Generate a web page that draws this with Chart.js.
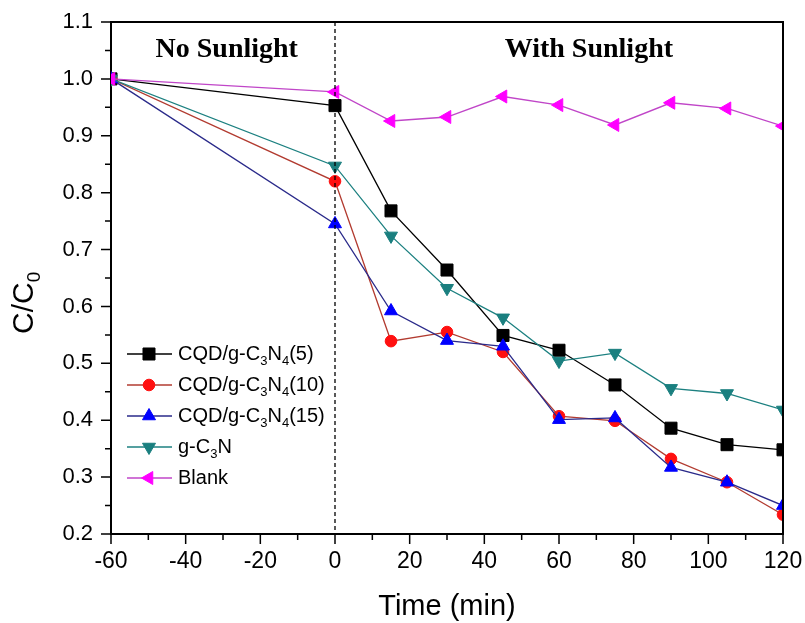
<!DOCTYPE html>
<html>
<head>
<meta charset="utf-8">
<script src="https://cdn.jsdelivr.net/npm/chart.js@4.4.1/dist/chart.umd.min.js"></script>
<style>
  html, body { margin: 0; padding: 0; background: #fff; }
  #wrap { width: 805px; height: 623px; }
</style>
</head>
<body>
<div id="wrap"><canvas id="chart" width="805" height="623"></canvas></div>
<script>
// time points (min)
const times = [-60, 0, 15, 30, 45, 60, 75, 90, 105, 120];

// C/C0 values
const cqd5  = [1.0, 0.953, 0.768, 0.664, 0.549, 0.523, 0.462, 0.386, 0.357, 0.348];
const cqd10 = [1.0, 0.820, 0.539, 0.555, 0.520, 0.407, 0.399, 0.332, 0.291, 0.234];
const cqd15 = [1.0, 0.745, 0.592, 0.540, 0.530, 0.401, 0.404, 0.317, 0.291, 0.250];
const gcn   = [1.0, 0.847, 0.724, 0.632, 0.580, 0.504, 0.518, 0.456, 0.447, 0.418];
const blank = [1.0, 0.977, 0.926, 0.933, 0.969, 0.954, 0.919, 0.958, 0.948, 0.917];

// _n marks a subscript digit
const seriesLabels = ['CQD/g-C_3N_4(5)', 'CQD/g-C_3N_4(10)', 'CQD/g-C_3N_4(15)', 'g-C_3N', 'Blank'];
const regionLabels = ['No Sunlight', 'With Sunlight'];
const regionAt = [-29, 68];

const toPoints = (arr) => arr.map((v, i) => ({ x: times[i], y: v }));

// draws text with "_3" style subscripts, returns end x
function drawSubText(ctx, str, x, y, size, subSize, drop) {
    const parts = str.split(/_(\d)/);
    parts.forEach((p, i) => {
        if (!p) return;
        const sub = i % 2 === 1;
        ctx.font = (sub ? subSize : size) + 'px "Liberation Sans", Arial, sans-serif';
        ctx.fillText(p, x, sub ? y + drop : y);
        x += ctx.measureText(p).width;
    });
    return x;
}

const framePlugin = {
    id: 'frame',
    afterDraw(chart) {
        const { ctx, chartArea: a, scales } = chart;
        ctx.save();

        // top + right edges of the box
        ctx.strokeStyle = '#000';
        ctx.lineWidth = 2;
        ctx.beginPath();
        ctx.moveTo(a.left, a.top);
        ctx.lineTo(a.right, a.top);
        ctx.lineTo(a.right, a.bottom);
        ctx.stroke();

        // outward ticks, long ones where a label sits
        ctx.lineWidth = 1.5;
        ctx.beginPath();
        scales.x.ticks.forEach(t => {
            const px = scales.x.getPixelForValue(t.value);
            const len = t.label !== '' ? 10 : 6;
            ctx.moveTo(px, a.bottom);
            ctx.lineTo(px, a.bottom + len);
        });
        scales.y.ticks.forEach(t => {
            const py = scales.y.getPixelForValue(t.value);
            const len = t.label !== '' ? 10 : 6;
            ctx.moveTo(a.left, py);
            ctx.lineTo(a.left - len, py);
        });
        ctx.stroke();

        // dashed divider at t = 0
        const x0 = scales.x.getPixelForValue(0);
        ctx.setLineDash([4, 3]);
        ctx.lineWidth = 1.3;
        ctx.beginPath();
        ctx.moveTo(x0, a.top);
        ctx.lineTo(x0, a.bottom);
        ctx.stroke();
        ctx.setLineDash([]);

        // region headings
        ctx.fillStyle = '#000';
        ctx.font = 'bold 28px "Liberation Serif", "Times New Roman", serif';
        ctx.textAlign = 'center';
        ctx.textBaseline = 'alphabetic';
        regionLabels.forEach((txt, i) => {
            ctx.fillText(txt, scales.x.getPixelForValue(regionAt[i]), a.top + 35);
        });

        // y axis title C/C0
        ctx.save();
        ctx.translate(33, 334);
        ctx.rotate(-Math.PI / 2);
        ctx.textAlign = 'left';
        ctx.fillStyle = '#000';
        drawSubText(ctx, 'C/C_0', 0, 0, 30, 19, 7);
        ctx.restore();

        // legend inside the plot
        const lx = a.left + 16;
        chart.data.datasets.forEach((ds, i) => {
            const ly = a.top + 332 + i * 31;
            ctx.strokeStyle = ds.borderColor;
            ctx.lineWidth = 1.3;
            ctx.beginPath();
            ctx.moveTo(lx, ly);
            ctx.lineTo(lx + 45, ly);
            ctx.stroke();
            ctx.fillStyle = ds.pointBackgroundColor;
            ctx.strokeStyle = ds.pointBorderColor;
            ctx.lineWidth = 1;
            Chart.helpers.drawPoint(ctx, {
                pointStyle: ds.pointStyle,
                rotation: ds.pointRotation || 0,
                radius: ds.pointRadius,
                borderWidth: 1
            }, lx + 22, ly);
            ctx.fillStyle = '#000';
            ctx.textAlign = 'left';
            ctx.textBaseline = 'middle';
            drawSubText(ctx, ds.label, lx + 51, ly, 20, 13, 7);
        });

        ctx.restore();
    }
};

function series(label, data, line, mark, style, radius, rot, order) {
    return {
        label: label,
        data: toPoints(data),
        borderColor: line,
        borderWidth: 1.3,
        pointBackgroundColor: mark,
        pointBorderColor: mark,
        pointBorderWidth: 1,
        pointStyle: style,
        pointRadius: radius,
        pointRotation: rot,
        tension: 0,
        fill: false,
        order: order
    };
}

new Chart(document.getElementById('chart'), {
    type: 'line',
    data: {
        datasets: [
            series(seriesLabels[0], cqd5,  '#000000', '#000000', 'rect', 8.5, 0, 5),
            series(seriesLabels[1], cqd10, '#b23b30', '#ff1010', 'circle', 5.8, 0, 4),
            series(seriesLabels[2], cqd15, '#2a2a8a', '#0000ff', 'triangle', 7.5, 0, 3),
            series(seriesLabels[3], gcn,   '#1c8080', '#1a7f7f', 'triangle', 7.5, 180, 2),
            series(seriesLabels[4], blank, '#c046c8', '#ff00ff', 'triangle', 7.5, 270, 1)
        ]
    },
    options: {
        responsive: false,
        animation: false,
        layout: { padding: { top: 22, right: 22, left: 0, bottom: 0 } },
        plugins: {
            legend: { display: false },
            tooltip: { enabled: false }
        },
        scales: {
            x: {
                type: 'linear',
                min: -60,
                max: 120,
                ticks: {
                    stepSize: 10,
                    padding: 14,
                    color: '#000',
                    font: { family: '"Liberation Sans", Arial, sans-serif', size: 23 },
                    maxRotation: 0,
                    autoSkip: false,
                    callback: (v) => (v % 20 === 0 ? String(v) : '')
                },
                grid: { display: true, drawOnChartArea: false, drawTicks: false },
                border: { display: true, color: '#000', width: 2 },
                title: {
                    display: true,
                    text: 'Time (min)',
                    color: '#000',
                    font: { family: '"Liberation Sans", Arial, sans-serif', size: 29, lineHeight: 1.1 },
                    padding: 0
                },
                afterFit: (s) => {
                    s.height = 89;
                    s.paddingLeft = 0;
                    s.paddingRight = 0;
                }
            },
            y: {
                min: 0.2,
                max: 1.1,
                ticks: {
                    stepSize: 0.05,
                    padding: 18,
                    color: '#000',
                    font: { family: '"Liberation Sans", Arial, sans-serif', size: 22 },
                    autoSkip: false,
                    callback: (v) => (Math.round(v * 100) % 10 === 0 ? v.toFixed(1) : '')
                },
                grid: { display: true, drawOnChartArea: false, drawTicks: false },
                border: { display: true, color: '#000', width: 2 },
                afterFit: (s) => {
                    s.width = 111;
                    s.paddingTop = 0;
                    s.paddingBottom = 0;
                }
            }
        }
    },
    plugins: [framePlugin]
});
</script>
</body>
</html>
